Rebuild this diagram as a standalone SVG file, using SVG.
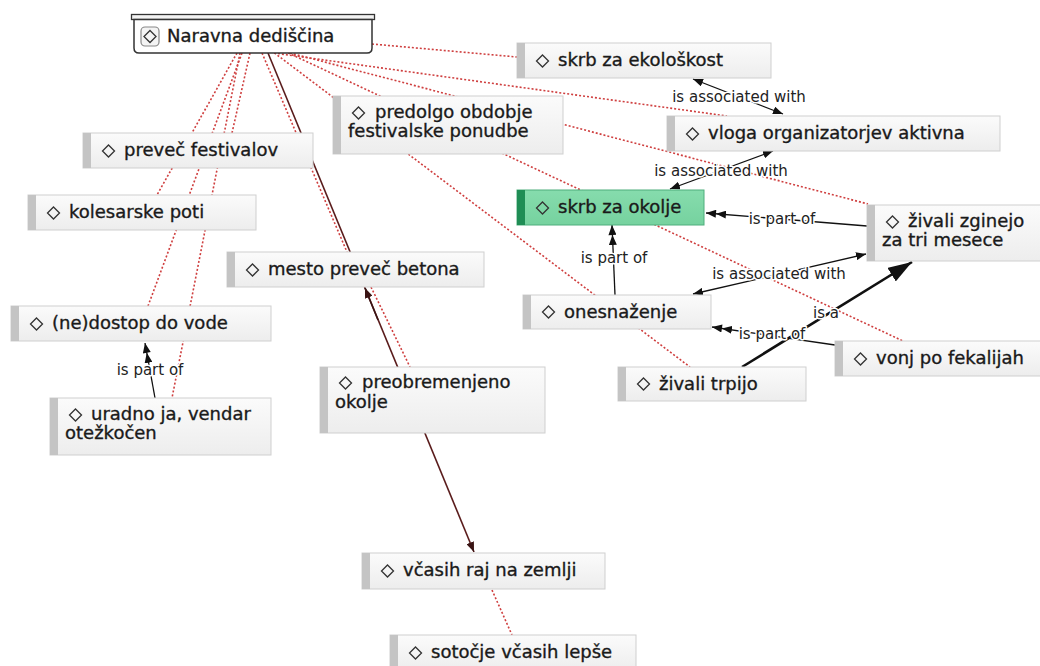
<svg xmlns="http://www.w3.org/2000/svg" width="1040" height="666" viewBox="0 0 1040 666">
<defs>
<linearGradient id="g" x1="0" y1="0" x2="0" y2="1"><stop offset="0" stop-color="#fbfbfb"/><stop offset="1" stop-color="#ededed"/></linearGradient>
<linearGradient id="gg" x1="0" y1="0" x2="0" y2="1"><stop offset="0" stop-color="#86dcad"/><stop offset="1" stop-color="#76d29f"/></linearGradient>
<marker id="ah" viewBox="0 0 10 8" refX="10" refY="4" markerWidth="10" markerHeight="8" orient="auto-start-reverse" markerUnits="userSpaceOnUse"><path d="M0,0 L10,4 L0,8 z" fill="#111"/></marker>
<marker id="ah2" viewBox="0 0 20 8" refX="20" refY="4" markerWidth="20" markerHeight="8" orient="auto" markerUnits="userSpaceOnUse"><path d="M0,0 L10,4 L0,8 z M10,0 L20,4 L10,8 z" fill="#111"/></marker>
<marker id="big" viewBox="0 0 24 16" refX="24" refY="8" markerWidth="24" markerHeight="16" orient="auto" markerUnits="userSpaceOnUse"><path d="M0,0 L24,8 L0,16 z" fill="#111"/></marker>
<marker id="dk" viewBox="0 0 10 8" refX="10" refY="4" markerWidth="10" markerHeight="8" orient="auto" markerUnits="userSpaceOnUse"><path d="M0,0 L10,4 L0,8 z" fill="#3a1414"/></marker>
</defs>
<style>
.box{fill:url(#g);stroke:#cfcfcf;stroke-width:1}
.bar{fill:#c4c4c4}
.dm{fill:none;stroke:#333;stroke-width:1.3}
.t{font-family:"DejaVu Sans",sans-serif;font-size:18px;fill:#1a1a1a;stroke:#1a1a1a;stroke-width:0.35}
.lbl{font-family:"DejaVu Sans",sans-serif;font-size:15px;fill:#222;stroke:#fff;stroke-width:3;paint-order:stroke;stroke-linejoin:round;text-anchor:middle}
.rd{fill:none;stroke:#cf3f3f;stroke-width:1.6;stroke-dasharray:2 2}
.bk{fill:none;stroke:#111;stroke-width:1.3}
</style>
<rect width="1040" height="666" fill="#fff"/>
<g id="connectors">
<line class="rd" x1="372" y1="44" x2="517" y2="57"/>
<line class="rd" x1="274" y1="53" x2="727" y2="116"/>
<line class="rd" x1="290" y1="53" x2="868" y2="204"/>
<line class="rd" x1="252" y1="36" x2="903" y2="341"/>
<line class="rd" x1="252" y1="36" x2="690" y2="367"/>
<line class="rd" x1="250" y1="53" x2="232" y2="133"/>
<line class="rd" x1="237" y1="53" x2="157" y2="195"/>
<line class="rd" x1="242" y1="53" x2="148" y2="306"/>
<line class="rd" x1="240" y1="53" x2="172" y2="398"/>
<line class="rd" x1="262" y1="53" x2="347" y2="252"/>
<line class="rd" x1="371" y1="287" x2="410" y2="367"/>
<line class="rd" x1="492" y1="590" x2="512" y2="635"/>
<line x1="268" y1="53" x2="474" y2="552" stroke="#5a1c1c" stroke-width="1.6" marker-end="url(#dk)"/>
<line x1="378" y1="320" x2="365" y2="288" stroke="#3a1414" stroke-width="1.6" marker-end="url(#dk)"/>
<line class="bk" x1="693" y1="79" x2="783" y2="114" marker-start="url(#ah)" marker-end="url(#ah)"/>
<line class="bk" x1="670" y1="189" x2="773" y2="151" marker-start="url(#ah)" marker-end="url(#ah)"/>
<line class="bk" x1="867" y1="226" x2="706" y2="213" marker-end="url(#ah2)"/>
<line class="bk" x1="615" y1="295" x2="612" y2="225" marker-end="url(#ah2)"/>
<line class="bk" x1="693" y1="294" x2="866" y2="254" marker-start="url(#ah)" marker-end="url(#ah)"/>
<line class="bk" x1="835" y1="345" x2="712" y2="327" marker-end="url(#ah2)"/>
<line x1="742" y1="367" x2="912" y2="262" stroke="#111" stroke-width="2.6" marker-end="url(#big)"/>
<line class="bk" x1="155" y1="398" x2="145" y2="343" marker-end="url(#ah2)"/>
<text class="lbl" x="739" y="102">is associated with</text>
<text class="lbl" x="721" y="176">is associated with</text>
<text class="lbl" x="782" y="224">is part of</text>
<text class="lbl" x="614" y="263">is part of</text>
<text class="lbl" x="779" y="279">is associated with</text>
<text class="lbl" x="772" y="339">is part of</text>
<text class="lbl" x="826" y="318">is a</text>
<text class="lbl" x="150" y="375">is part of</text>
</g>
<g id="n-naravna">
<rect x="131.5" y="14.5" width="243" height="5" fill="#f2f2f2" stroke="#333" stroke-width="1.3"/>
<path d="M134,19.5 H372 V48 Q372,53 367,53 H139 Q134,53 134,48 Z" fill="#fff" stroke="#333" stroke-width="1.5"/>
<rect x="141" y="27" width="18" height="19" rx="4" fill="#f4f4f4" stroke="#888" stroke-width="1.2"/>
<polygon points="150,30.5 156,36.5 150,42.5 144,36.5" class="dm"/>
<text class="t" x="167" y="42">Naravna dediščina</text>
</g>
<g id="n-ekoloskost">
<rect class="box" x="517" y="43" width="254" height="35"/><rect class="bar" x="517" y="43" width="8" height="35"/>
<polygon class="dm" points="542.5,55 548.5,61 542.5,67 536.5,61"/>
<text class="t" x="558" y="66">skrb za ekološkost</text>
</g>
<g id="n-predolgo">
<rect class="box" x="333" y="96" width="230" height="58"/><rect class="bar" x="333" y="96" width="8" height="58"/>
<polygon class="dm" points="358.5,107 364.5,113 358.5,119 352.5,113"/>
<text class="t" x="375" y="118">predolgo obdobje</text>
<text class="t" x="348" y="137">festivalske ponudbe</text>
</g>
<g id="n-vloga">
<rect class="box" x="667" y="116" width="333" height="35"/><rect class="bar" x="667" y="116" width="8" height="35"/>
<polygon class="dm" points="692.5,128 698.5,134 692.5,140 686.5,134"/>
<text class="t" x="708" y="139">vloga organizatorjev aktivna</text>
</g>
<g id="n-prevec">
<rect class="box" x="83" y="133" width="230" height="35"/><rect class="bar" x="83" y="133" width="8" height="35"/>
<polygon class="dm" points="108.5,145 114.5,151 108.5,157 102.5,151"/>
<text class="t" x="124" y="156">preveč festivalov</text>
</g>
<g id="n-kolesarske">
<rect class="box" x="28" y="195" width="228" height="35"/><rect class="bar" x="28" y="195" width="8" height="35"/>
<polygon class="dm" points="53.5,207 59.5,213 53.5,219 47.5,213"/>
<text class="t" x="69" y="218">kolesarske poti</text>
</g>
<g id="n-okolje">
<rect x="517" y="190" width="187" height="35" fill="url(#gg)" stroke="#4fae7c" stroke-width="1"/><rect x="517" y="190" width="8" height="35" fill="#1f8d55"/>
<polygon class="dm" points="542.5,202 548.5,208 542.5,214 536.5,208"/>
<text class="t" x="558" y="213">skrb za okolje</text>
</g>
<g id="n-zginejo">
<rect class="box" x="867" y="205" width="180" height="56"/><rect class="bar" x="867" y="205" width="8" height="56"/>
<polygon class="dm" points="892.5,216 898.5,222 892.5,228 886.5,222"/>
<text class="t" x="908" y="227">živali zginejo</text>
<text class="t" x="882" y="246">za tri mesece</text>
</g>
<g id="n-mesto">
<rect class="box" x="227" y="252" width="257" height="35"/><rect class="bar" x="227" y="252" width="8" height="35"/>
<polygon class="dm" points="252.5,264 258.5,270 252.5,276 246.5,270"/>
<text class="t" x="268" y="275">mesto preveč betona</text>
</g>
<g id="n-onesnazenje">
<rect class="box" x="523" y="295" width="188" height="34"/><rect class="bar" x="523" y="295" width="8" height="34"/>
<polygon class="dm" points="548.5,306 554.5,312 548.5,318 542.5,312"/>
<text class="t" x="564" y="318">onesnaženje</text>
</g>
<g id="n-dostop">
<rect class="box" x="11" y="306" width="260" height="35"/><rect class="bar" x="11" y="306" width="8" height="35"/>
<polygon class="dm" points="36.5,318 42.5,324 36.5,330 30.5,324"/>
<text class="t" x="52" y="329">(ne)dostop do vode</text>
</g>
<g id="n-trpijo">
<rect class="box" x="618" y="367" width="188" height="34"/><rect class="bar" x="618" y="367" width="8" height="34"/>
<polygon class="dm" points="643.5,378 649.5,384 643.5,390 637.5,384"/>
<text class="t" x="659" y="390">živali trpijo</text>
</g>
<g id="n-vonj">
<rect class="box" x="835" y="341" width="210" height="35"/><rect class="bar" x="835" y="341" width="8" height="35"/>
<polygon class="dm" points="860.5,353 866.5,359 860.5,365 854.5,359"/>
<text class="t" x="876" y="364">vonj po fekalijah</text>
</g>
<g id="n-uradno">
<rect class="box" x="50" y="398" width="221" height="57"/><rect class="bar" x="50" y="398" width="8" height="57"/>
<polygon class="dm" points="75.5,409 81.5,415 75.5,421 69.5,415"/>
<text class="t" x="91" y="420">uradno ja, vendar</text>
<text class="t" x="65" y="439">otežkočen</text>
</g>
<g id="n-preobremenjeno">
<rect class="box" x="320" y="367" width="225" height="66"/><rect class="bar" x="320" y="367" width="8" height="66"/>
<polygon class="dm" points="345.5,377 351.5,383 345.5,389 339.5,383"/>
<text class="t" x="362" y="388">preobremenjeno</text>
<text class="t" x="335" y="408">okolje</text>
</g>
<g id="n-raj">
<rect class="box" x="362" y="553" width="243" height="36"/><rect class="bar" x="362" y="553" width="8" height="36"/>
<polygon class="dm" points="387.5,565 393.5,571 387.5,577 381.5,571"/>
<text class="t" x="403" y="576">včasih raj na zemlji</text>
</g>
<g id="n-sotocje">
<rect class="box" x="390" y="635" width="246" height="36"/><rect class="bar" x="390" y="635" width="8" height="36"/>
<polygon class="dm" points="415.5,647 421.5,653 415.5,659 409.5,653"/>
<text class="t" x="431" y="658">sotočje včasih lepše</text>
</g>
</svg>
